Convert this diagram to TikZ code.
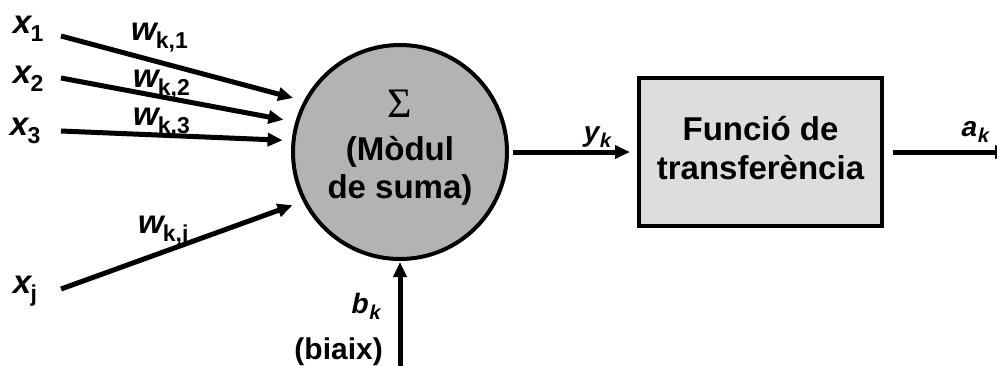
\documentclass[tikz,border=0pt]{standalone}
\usepackage{fontspec}
\setmainfont{Liberation Sans}
\newfontfamily\varfont{Liberation Sans Bold}[FakeSlant=0.21]
\newfontfamily\subfont{Liberation Sans Bold}
\newfontfamily\sigmafont{Liberation Serif}
\usetikzlibrary{arrows.meta}
\definecolor{sumgray}{RGB}{179,179,179}
\definecolor{boxgray}{RGB}{221,221,221}
\newcommand{\invar}[2]{{\varfont\fontsize{33}{33}\selectfont #1}\kern1pt\raisebox{-8pt}{\subfont\fontsize{23}{23}\selectfont #2}}
\newcommand{\outvar}[2]{{\varfont\fontsize{28}{28}\selectfont #1}\kern1pt\raisebox{-6pt}{\varfont\fontsize{20}{20}\selectfont #2}}

\begin{document}
\begin{tikzpicture}[x=1pt, y=-1pt, font=\bfseries,
  lab/.style={inner sep=0pt, anchor=base west},
  arr/.style={line width=5pt, -{Triangle[length=15pt,width=13pt]}},
  sumnode/.style={circle, draw, line width=4pt, fill=sumgray, minimum size=214pt, inner sep=0pt, align=center, font=\fontsize{33}{38}\selectfont\bfseries},
  tfbox/.style={rectangle, draw, line width=4pt, fill=boxgray, minimum width=243pt, minimum height=148pt, inner sep=0pt, align=center, font=\fontsize{33}{39}\selectfont\bfseries}]

\useasboundingbox (0,0) rectangle (997,365);
\clip (0,0) rectangle (997,365);

% Neuron
\node[sumnode] (sum) at (400,152) {{\sigmafont\mdseries\fontsize{42}{42}\selectfont Σ}\\[5pt] (Mòdul\\ de suma)\rule[-15pt]{0pt}{0pt}};
\node[tfbox] (tf) at (760.5,152) {Funció de\\ transferència\rule[-8pt]{0pt}{0pt}};

% Inputs
\node[lab] (x1) at (11,33) {\invar{x}{1}};
\node[lab] (x2) at (11,83) {\invar{x}{2}};
\node[lab] (x3) at (8,135) {\invar{x}{3}};
\node[lab] (xj) at (11,293) {\invar{x}{j}};

% Weights
\node[lab] (w1) at (129,40) {\invar{w}{k,1}};
\node[lab] (w2) at (131,87) {\invar{w}{k,2}};
\node[lab] (w3) at (131,125) {\invar{w}{k,3}};
\node[lab] (wj) at (136,233) {\invar{w}{k,j}};

% Outputs and bias
\node[lab] (yk) at (582,141) {\outvar{y}{k}};
\node[lab] (ak) at (960,136) {\outvar{a}{k}};
\node[lab] (bk) at (350,313) {\outvar{b}{k}};
\node[inner sep=0pt, anchor=base east, font=\fontsize{30}{30}\selectfont\bfseries] (biaix) at (383,359) {(biaix)};

\coordinate (s1) at (61,36);
\coordinate (s2) at (61,78);
\coordinate (s3) at (61,131);
\coordinate (sj) at (61,289);
\coordinate (bin) at (400,368);
\coordinate (out) at (1010,152);

% Connections
\draw[arr, shorten >=11pt] (s1) -- (sum.152.5);
\draw[arr, shorten >=12pt] (s2) -- (sum.164.2);
\draw[arr, shorten >=9pt] (s3) -- (sum.174.4);
\draw[arr, shorten >=11pt] (sj) -- (sum.207);
\draw[arr, shorten <=4pt, shorten >=7pt] (sum) -- (tf);
\draw[arr, shorten <=9pt] (tf) -- (out);
\draw[arr, shorten >=1pt] (bin) -- (sum);

\end{tikzpicture}
\end{document}
